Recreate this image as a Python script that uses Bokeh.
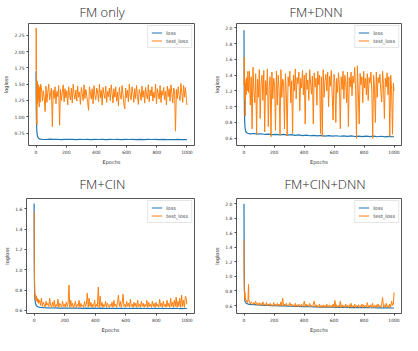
from bokeh.plotting import figure
from bokeh.models import Range1d, FixedTicker, Legend, LegendItem, Title, NumeralTickFormatter
from bokeh.layouts import column, row
from bokeh.embed import file_html
from bokeh.resources import INLINE

# ---------------- data ----------------
titles = ["FM only", "FM+DNN", "FM+CIN", "FM+CIN+DNN"]
x_ticks = [0, 200, 400, 600, 800, 1000]

loss_epochs_early = [0, 1, 2, 3, 4, 5, 6, 8, 10, 12, 15, 20, 25, 30]
loss_epochs_tail = list(range(40, 1000, 25)) + [1000]
band_epochs = list(range(36, 1000, 6)) + [1000]

# FM only
fm_loss_early = [1.70, 1.30, 1.05, 0.92, 0.85, 0.80, 0.76, 0.72, 0.70, 0.69, 0.675, 0.665, 0.66, 0.658]
fm_loss_tail = [0.655, 0.652, 0.657, 0.653, 0.656, 0.651, 0.655, 0.653, 0.654, 0.651,
                0.655, 0.652, 0.654, 0.650, 0.653, 0.652, 0.655, 0.651, 0.654, 0.652,
                0.653, 0.650, 0.654, 0.652, 0.655, 0.651, 0.653, 0.650, 0.654, 0.652,
                0.653, 0.651, 0.654, 0.650, 0.652, 0.651, 0.653, 0.650, 0.652, 0.651]
fm_test_epochs_early = [0, 1, 2, 3, 4, 5, 6, 8, 10, 12, 15, 18, 21, 24, 27, 30]
fm_test_early = [1.72, 2.36, 1.95, 1.45, 1.10, 0.92, 0.88, 1.55, 1.20, 1.50, 1.25, 1.48, 1.15, 1.45, 1.22, 1.50]
fm_test_band = [1.45, 1.24, 1.40, 1.30, 1.08, 1.47, 1.22, 1.38, 1.50, 1.26,
                1.35, 1.44, 0.85, 1.41, 1.28, 1.46, 1.20, 1.39, 1.31, 1.48,
                0.87, 1.42, 1.25, 1.37, 1.49, 1.23, 1.43, 1.29, 1.40, 1.18,
                1.46, 1.33, 1.26, 1.44, 1.21, 1.50, 1.34, 1.27, 1.41, 1.24,
                1.47, 1.30, 1.38, 1.19, 1.45, 1.36, 1.25, 1.49, 1.28, 1.42,
                1.32, 1.22, 1.10, 1.46, 1.37, 1.27, 1.43, 1.20, 1.48, 1.33,
                1.26, 1.44, 1.38, 1.23, 1.50, 1.29, 1.41, 1.18, 1.45, 1.35,
                1.28, 1.47, 1.22, 1.39, 1.31, 1.44, 1.25, 1.49, 1.36, 1.21,
                1.43, 1.30, 1.46, 1.24, 1.38, 1.17, 1.45, 1.33, 1.27, 1.48,
                1.35, 1.20, 1.12, 1.44, 1.29, 1.41, 1.23, 1.50, 1.32, 1.26,
                1.46, 1.37, 1.22, 1.43, 1.28, 1.48, 1.31, 1.19, 1.42, 1.36,
                1.25, 1.47, 1.30, 1.40, 1.21, 1.45, 1.34, 1.27, 1.49, 1.23,
                1.41, 1.32, 1.46, 1.24, 1.38, 1.29, 1.50, 1.20, 1.43, 1.35,
                1.27, 1.48, 1.22, 1.40, 1.33, 1.45, 1.26, 1.39, 1.18, 1.47,
                1.31, 1.43, 1.24, 1.49, 1.36, 1.21, 1.44, 1.40, 0.78, 1.42,
                1.28, 1.46, 1.33, 1.25, 1.51, 1.37, 1.22, 1.48, 1.30, 1.45,
                1.27, 1.18]

# FM+DNN
dnn_loss_early = [1.97, 1.40, 1.10, 0.92, 0.85, 0.80, 0.76, 0.72, 0.70, 0.685, 0.675, 0.668, 0.662, 0.66]
dnn_loss_tail = [0.655, 0.660, 0.652, 0.657, 0.648, 0.653, 0.645, 0.650, 0.642, 0.648,
                 0.640, 0.646, 0.636, 0.642, 0.634, 0.640, 0.632, 0.637, 0.630, 0.636,
                 0.628, 0.634, 0.627, 0.632, 0.625, 0.631, 0.624, 0.630, 0.622, 0.628,
                 0.621, 0.627, 0.620, 0.626, 0.619, 0.625, 0.618, 0.624, 0.619, 0.622]
dnn_test_epochs_early = [0, 2, 4, 6, 8, 10, 14, 18, 22, 26, 30]
dnn_test_early = [1.28, 1.63, 1.10, 1.35, 0.88, 1.30, 1.15, 1.37, 1.20, 1.45, 1.18]
dnn_test_band = [1.45, 1.02, 1.38, 0.72, 1.50, 1.20, 1.05, 1.42, 0.65, 1.35,
                 1.12, 1.47, 0.85, 1.30, 1.40, 1.08, 1.46, 0.68, 1.33, 1.15,
                 1.48, 0.75, 1.25, 1.38, 0.62, 1.44, 1.10, 1.36, 1.28, 0.70,
                 1.45, 1.02, 1.40, 1.22, 0.64, 1.47, 1.12, 1.35, 1.30, 0.72,
                 1.42, 1.18, 0.63, 1.38, 1.26, 1.45, 1.05, 1.33, 0.66, 1.40,
                 1.20, 1.48, 1.10, 1.37, 1.29, 1.44, 0.95, 1.36, 1.24, 1.46,
                 1.15, 1.40, 0.78, 1.43, 1.22, 1.34, 1.08, 1.47, 1.30, 1.16,
                 1.39, 0.78, 1.43, 1.25, 1.36, 1.02, 1.45, 1.28, 1.40, 0.66,
                 1.38, 0.62, 1.47, 1.12, 1.33, 1.41, 1.20, 1.44, 1.00, 1.39,
                 1.26, 1.46, 1.15, 0.83, 1.41, 1.30, 0.80, 1.36, 1.18, 1.43,
                 1.27, 0.72, 1.38, 1.22, 1.45, 1.10, 1.40, 1.32, 1.05, 1.44,
                 0.75, 1.37, 1.25, 1.44, 1.14, 1.39, 1.30, 1.50, 1.22, 0.60,
                 1.52, 1.20, 0.78, 1.42, 1.28, 1.38, 1.05, 1.45, 1.24, 1.36,
                 1.15, 1.42, 1.08, 1.37, 1.30, 1.44, 1.20, 0.60, 1.40, 1.26,
                 0.80, 1.44, 1.12, 1.37, 1.30, 1.41, 1.20, 1.06, 1.45, 1.28,
                 0.85, 1.36, 1.25, 1.43, 1.15, 1.38, 0.62, 1.40, 1.22, 0.65,
                 1.30, 1.20]

# FM+CIN
cin_loss_early = [1.65, 1.10, 0.90, 0.80, 0.75, 0.72, 0.70, 0.68, 0.665, 0.655, 0.648, 0.64, 0.636, 0.633]
cin_loss_tail = [0.630, 0.627, 0.626, 0.624, 0.625, 0.623, 0.624, 0.622, 0.623, 0.622,
                 0.623, 0.621, 0.622, 0.621, 0.622, 0.620, 0.622, 0.621, 0.621, 0.620,
                 0.621, 0.620, 0.621, 0.619, 0.620, 0.620, 0.621, 0.619, 0.620, 0.619,
                 0.620, 0.619, 0.620, 0.619, 0.619, 0.620, 0.619, 0.618, 0.619, 0.619]
cin_test_epochs_early = [0, 1, 2, 3, 4, 5, 6, 8, 10, 12, 15, 18, 21, 24, 27, 30]
cin_test_early = [1.57, 1.20, 0.98, 0.85, 0.78, 0.74, 0.76, 0.72, 0.75, 0.70, 0.74, 0.69, 0.72, 0.68, 0.71, 0.67]
cin_test_band = [0.70, 0.65, 0.72, 0.64, 0.68, 0.66, 0.63, 0.69, 0.65, 0.67,
                 0.64, 0.72, 0.65, 0.63, 0.68, 0.64, 0.70, 0.63, 0.66, 0.64,
                 0.71, 0.63, 0.67, 0.65, 0.63, 0.69, 0.64, 0.66, 0.63, 0.68,
                 0.64, 0.66, 0.85, 0.63, 0.70, 0.64, 0.67, 0.62, 0.65, 0.69,
                 0.63, 0.66, 0.64, 0.70, 0.63, 0.67, 0.64, 0.65, 0.63, 0.69,
                 0.64, 0.66, 0.77, 0.63, 0.72, 0.64, 0.68, 0.63, 0.66, 0.64,
                 0.70, 0.63, 0.66, 0.64, 0.83, 0.63, 0.74, 0.64, 0.68, 0.63,
                 0.66, 0.64, 0.69, 0.63, 0.67, 0.65, 0.63, 0.66, 0.64, 0.68,
                 0.63, 0.70, 0.64, 0.66, 0.63, 0.68, 0.75, 0.64, 0.69, 0.63,
                 0.67, 0.76, 0.64, 0.66, 0.63, 0.69, 0.64, 0.67, 0.63, 0.71,
                 0.64, 0.66, 0.63, 0.68, 0.64, 0.67, 0.63, 0.70, 0.64, 0.66,
                 0.63, 0.69, 0.64, 0.67, 0.63, 0.66, 0.64, 0.70, 0.63, 0.68,
                 0.64, 0.66, 0.63, 0.69, 0.64, 0.67, 0.63, 0.68, 0.64, 0.66,
                 0.63, 0.71, 0.64, 0.67, 0.63, 0.69, 0.64, 0.66, 0.63, 0.70,
                 0.64, 0.67, 0.63, 0.72, 0.64, 0.68, 0.63, 0.70, 0.64, 0.73,
                 0.63, 0.69, 0.64, 0.72, 0.63, 0.75, 0.64, 0.70, 0.63, 0.74,
                 0.72, 0.66]

# FM+CIN+DNN
all_loss_early = [2.00, 1.30, 0.95, 0.80, 0.73, 0.69, 0.67, 0.655, 0.645, 0.638, 0.632, 0.626, 0.622, 0.619]
all_loss_tail = [0.615, 0.612, 0.608, 0.606, 0.603, 0.601, 0.599, 0.597, 0.596, 0.594,
                 0.592, 0.590, 0.589, 0.587, 0.585, 0.584, 0.583, 0.581, 0.580, 0.579,
                 0.578, 0.577, 0.576, 0.575, 0.574, 0.573, 0.573, 0.572, 0.571, 0.571,
                 0.570, 0.570, 0.569, 0.569, 0.568, 0.568, 0.567, 0.567, 0.566, 0.566]
all_test_epochs_early = [0, 1, 2, 3, 4, 5, 6, 8, 10, 12, 15, 18, 21, 24, 27, 30, 33]
all_test_early = [1.50, 1.05, 0.88, 0.79, 0.74, 0.70, 0.78, 0.68, 0.70, 0.66, 0.67, 0.65, 0.66, 0.64, 0.70, 0.89, 0.66]
all_test_band = [0.66, 0.62, 0.65, 0.63, 0.61, 0.64, 0.62, 0.66, 0.61, 0.63,
                 0.60, 0.64, 0.61, 0.63, 0.60, 0.65, 0.61, 0.62, 0.60, 0.64,
                 0.60, 0.62, 0.59, 0.63, 0.60, 0.61, 0.59, 0.64, 0.60, 0.62,
                 0.59, 0.63, 0.60, 0.62, 0.59, 0.65, 0.60, 0.70, 0.59, 0.62,
                 0.60, 0.63, 0.59, 0.61, 0.60, 0.64, 0.59, 0.62, 0.60, 0.61,
                 0.58, 0.63, 0.59, 0.61, 0.58, 0.62, 0.60, 0.59, 0.62, 0.58,
                 0.61, 0.66, 0.58, 0.62, 0.59, 0.61, 0.58, 0.63, 0.59, 0.60,
                 0.58, 0.62, 0.66, 0.58, 0.61, 0.57, 0.60, 0.58, 0.62, 0.57,
                 0.60, 0.58, 0.61, 0.57, 0.60, 0.58, 0.62, 0.57, 0.59, 0.61,
                 0.57, 0.60, 0.58, 0.62, 0.57, 0.67, 0.58, 0.61, 0.57, 0.60,
                 0.58, 0.66, 0.57, 0.61, 0.58, 0.60, 0.57, 0.62, 0.58, 0.60,
                 0.57, 0.61, 0.58, 0.63, 0.57, 0.60, 0.58, 0.62, 0.57, 0.60,
                 0.58, 0.61, 0.57, 0.60, 0.58, 0.62, 0.57, 0.61, 0.58, 0.60,
                 0.57, 0.64, 0.58, 0.60, 0.57, 0.61, 0.58, 0.63, 0.57, 0.60,
                 0.58, 0.61, 0.57, 0.62, 0.58, 0.60, 0.57, 0.62, 0.71, 0.58,
                 0.61, 0.57, 0.63, 0.58, 0.60, 0.57, 0.62, 0.58, 0.66, 0.60,
                 0.62, 0.78]

y_ticks_fm = [0.75, 1.00, 1.25, 1.50, 1.75, 2.00, 2.25]
y_ticks_dnn = [0.6, 0.8, 1.0, 1.2, 1.4, 1.6, 1.8, 2.0]
y_ticks_cin = [0.6, 0.8, 1.0, 1.2, 1.4, 1.6]
y_ticks_all = [0.6, 0.8, 1.0, 1.2, 1.4, 1.6, 1.8, 2.0]

LOSS_C = "#1f77b4"
TEST_C = "#ff7f0e"
TITLE_FONT = "'Open Sans Light', 'Lato Light', 'Open Sans'"


def make_panel(title, w, h, bl, br, bt, bb, yr, yticks, yfmt,
               loss_e, loss_v, test_e, test_v, t_off, t_standoff):
    p = figure(width=w, height=h, output_backend="svg", toolbar_location=None,
               title=None, x_range=Range1d(-50, 1050), y_range=Range1d(*yr),
               min_border_left=bl, min_border_right=br,
               min_border_top=bt, min_border_bottom=bb)
    p.background_fill_color = "white"
    p.border_fill_color = "white"
    p.outline_line_color = "#555555"
    p.outline_line_width = 1
    p.xgrid.visible = False
    p.ygrid.visible = False
    for ax in (p.xaxis[0], p.yaxis[0]):
        ax.axis_line_color = None
        ax.major_tick_out = 2
        ax.major_tick_in = 0
        ax.major_tick_line_color = "#444444"
        ax.minor_tick_line_color = None
        ax.major_label_text_font = "DejaVu Sans"
        ax.major_label_text_font_size = "4.5px"
        ax.major_label_text_color = "#333333"
        ax.major_label_standoff = 2
        ax.axis_label_text_font = "DejaVu Sans"
        ax.axis_label_text_font_size = "5px"
        ax.axis_label_text_font_style = "normal"
        ax.axis_label_text_color = "#333333"
        ax.axis_label_standoff = 2
    p.xaxis.ticker = FixedTicker(ticks=x_ticks)
    p.yaxis.ticker = FixedTicker(ticks=yticks)
    p.yaxis.formatter = NumeralTickFormatter(format=yfmt)
    p.xaxis.axis_label = "Epochs"
    p.yaxis.axis_label = "logloss"

    r_loss = p.line(loss_e, loss_v, line_color=LOSS_C, line_width=1.2)
    r_test = p.line(test_e, test_v, line_color=TEST_C, line_width=1.0)

    leg = Legend(items=[LegendItem(label="loss", renderers=[r_loss]),
                        LegendItem(label="test_loss", renderers=[r_test])],
                 location="top_right")
    leg.label_text_font = "DejaVu Sans"
    leg.label_text_font_size = "5px"
    leg.label_text_color = "#333333"
    leg.glyph_width = 11
    leg.glyph_height = 7
    leg.label_height = 7
    leg.label_standoff = 4
    leg.padding = 3
    leg.spacing = 1
    leg.margin = 2
    leg.border_line_color = "#cccccc"
    leg.border_line_width = 1
    leg.background_fill_alpha = 0.8
    p.add_layout(leg)

    p.add_layout(Title(text=title, align="left", offset=t_off,
                       vertical_align="middle", standoff=t_standoff,
                       text_font=TITLE_FONT, text_font_size="13px",
                       text_font_style="normal", text_color="#222222"), "above")
    return p


def series(early_e, early_v, tail_e, tail_v):
    assert len(early_e) == len(early_v), (len(early_e), len(early_v))
    assert len(tail_e) == len(tail_v), (len(tail_e), len(tail_v))
    return early_e + tail_e, early_v + tail_v


p1 = make_panel(titles[0], 201, 168, 26, 7, 23, 22, (0.56, 2.43), y_ticks_fm, "0.00",
                *series(loss_epochs_early, fm_loss_early, loss_epochs_tail, fm_loss_tail),
                *series(fm_test_epochs_early, fm_test_early, band_epochs, fm_test_band),
                51, 3)
p2 = make_panel(titles[1], 201, 168, 35, 1, 22, 23, (0.508, 2.056), y_ticks_dnn, "0.0",
                *series(loss_epochs_early, dnn_loss_early, loss_epochs_tail, dnn_loss_tail),
                *series(dnn_test_epochs_early, dnn_test_early, band_epochs, dnn_test_band),
                53, 3)
p3 = make_panel(titles[2], 201, 167, 26, 7, 30, 17, (0.57, 1.70), y_ticks_cin, "0.0",
                *series(loss_epochs_early, cin_loss_early, loss_epochs_tail, cin_loss_tail),
                *series(cin_test_epochs_early, cin_test_early, band_epochs, cin_test_band),
                53, 10)
p4 = make_panel(titles[3], 201, 167, 35, 1, 30, 17, (0.49, 2.073), y_ticks_all, "0.0",
                *series(loss_epochs_early, all_loss_early, loss_epochs_tail, all_loss_tail),
                *series(all_test_epochs_early, all_test_early, band_epochs, all_test_band),
                48, 10)

layout = column(row(p1, p2, spacing=0), row(p3, p4, spacing=0), spacing=0)
open("out.html", "w").write(file_html(layout, INLINE))
